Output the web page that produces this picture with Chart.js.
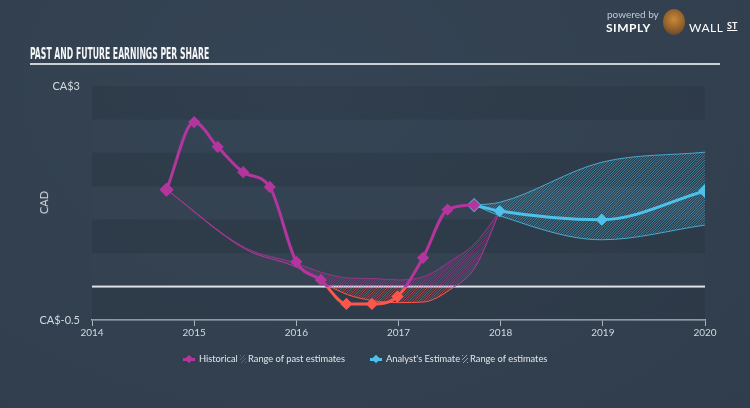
<!DOCTYPE html>
<html>
<head>
<meta charset="utf-8">
<script src="https://cdn.jsdelivr.net/npm/chart.js@4.4.1/dist/chart.umd.min.js"></script>
<style>
  body { margin: 0; width: 750px; height: 408px; overflow: hidden;
         background: radial-gradient(ellipse at 40% 20%, #354454 0%, #303d4c 100%);
         font-family: Lato, "Open Sans", sans-serif; }
  #wrap { position: absolute; left: 0; top: 0; width: 750px; height: 408px; }
  .title { position: absolute; left: 30px; top: 45px; color: #f4f6f8; white-space: nowrap;
           font-family: "DejaVu Sans Condensed", "Liberation Sans Narrow", sans-serif;
           font-weight: bold; font-size: 13px;
           transform: scale(0.66, 1.15); transform-origin: left top; }
  .rule { position: absolute; left: 30px; top: 63px; width: 690px; height: 2px; background: #c9d0d8; }
  .cad { position: absolute; left: 32px; top: 196px; color: #cfd5db; font-size: 11px;
         transform: rotate(-90deg); }
  .logo1 { position: absolute; left: 607px; top: 8px; color: #c4cad1; font-size: 10px; }
  .logo2 { position: absolute; left: 606px; top: 20px; color: #ffffff; font-size: 12px; font-weight: bold; letter-spacing: 0.5px; }
  .logo3 { position: absolute; left: 689px; top: 20px; color: #ffffff; font-size: 12px; letter-spacing: 0.5px; }
  .logo4 { position: absolute; left: 727px; top: 20px; color: #ffffff; font-size: 9px; font-weight: bold; text-decoration: underline; }
  .bull { position: absolute; left: 663px; top: 9px; width: 22px; height: 26px; border-radius: 50%;
          background: radial-gradient(circle at 50% 40%, #c98a3a 0%, #8a5a28 60%, #3a3f46 100%); }
  .legend { position: absolute; top: 353px; left: 0; width: 750px; font-size: 9.3px; color: #e3e7eb; }
  .item { position: absolute; top: 0; white-space: nowrap; }
  .mk { position: absolute; top: 3px; width: 6px; height: 6px; transform: rotate(45deg); }
  .bar { position: absolute; top: 5px; width: 12px; height: 3px; }
  .hatch { position: absolute; top: 2px; width: 6px; height: 8px; }
</style>
</head>
<body>
<div id="wrap"><canvas id="chart" width="750" height="408"></canvas></div>
<div class="title">PAST AND FUTURE EARNINGS PER SHARE</div>
<div class="rule"></div>
<div class="cad">CAD</div>
<div class="logo1">powered by</div>
<div class="logo2">SIMPLY</div>
<div class="bull"></div>
<div class="logo3">WALL</div>
<div class="logo4">ST</div>
<div class="legend">
  <div class="bar" style="left:183px;background:#b4359d"></div>
  <div class="mk" style="left:186px;background:#b4359d"></div>
  <div class="item" style="left:199px">Historical</div>
  <div class="hatch" style="left:240px;background:repeating-linear-gradient(135deg,#b4359d 0 1px,transparent 1px 3px)"></div>
  <div class="item" style="left:248px">Range of past estimates</div>
  <div class="bar" style="left:370px;background:#4fc1e9"></div>
  <div class="mk" style="left:373px;background:#4fc1e9"></div>
  <div class="item" style="left:386px">Analyst's Estimate</div>
  <div class="hatch" style="left:462px;background:repeating-linear-gradient(135deg,#4fc1e9 0 1px,transparent 1px 3px)"></div>
  <div class="item" style="left:470px">Range of estimates</div>
</div>
<script>
// Historical EPS (CAD)
const histYears = [2014.73, 2015.0, 2015.23, 2015.48, 2015.74, 2016.0, 2016.24, 2016.49, 2016.74, 2016.99, 2017.24, 2017.48, 2017.74];
const histEps = [1.45, 2.46, 2.09, 1.71, 1.49, 0.37, 0.10, -0.26, -0.26, -0.15, 0.43, 1.15, 1.22];

// Range of past estimates
const pastYears = [2014.73, 2015.5, 2016.0, 2016.25, 2016.5, 2016.75, 2017.0, 2017.25, 2017.5, 2017.75, 2017.99];
const pastHigh = [1.45, 0.58, 0.35, 0.21, 0.13, 0.12, 0.10, 0.15, 0.37, 0.65, 1.12];
const pastLow = [1.45, 0.56, 0.29, 0.07, -0.12, -0.21, -0.24, -0.23, -0.05, 0.29, 1.12];

// Analyst estimates
const fcYears = [2017.74, 2017.99, 2018.99, 2020.0];
const fcEps = [1.22, 1.13, 1.00, 1.43];
const fcLow = [1.22, 1.06, 0.70, 0.92];
const fcHigh = [1.22, 1.26, 1.86, 2.01];

const xTicks = [2014, 2015, 2016, 2017, 2018, 2019, 2020];
const yMin = -0.5, yMax = 3;

const MAGENTA = '#b4359d';
const RED = '#ff564c';
const CYAN = '#4fc1e9';

function pts(xs, ys) { return xs.map((x, i) => ({ x: x, y: ys[i] })); }

function zeroPx(chart) {
  const ys = chart.scales.y;
  if (!ys || !chart.chartArea) return NaN;
  return ys.getPixelForValue(0);
}

// hatch pattern, colour changes at the zero line
const patCache = {};
function hatch(chart, key, topCol, botCol) {
  const zz = zeroPx(chart);
  if (!isFinite(zz)) return topCol;
  const z = Math.round(zz);
  const id = key + z;
  if (patCache[id]) return patCache[id];
  const w = chart.width, h = chart.height;
  const c = document.createElement('canvas');
  c.width = w; c.height = h;
  const g = c.getContext('2d');
  g.lineWidth = 1;
  [[0, z, topCol], [z, h, botCol]].forEach(([a, b, col]) => {
    g.save();
    g.beginPath(); g.rect(0, a, w, b - a); g.clip();
    g.strokeStyle = col;
    g.beginPath();
    for (let k = -h; k < w; k += 2.5) { g.moveTo(k, h); g.lineTo(k + h, 0); }
    g.stroke();
    g.restore();
  });
  patCache[id] = chart.ctx.createPattern(c, 'no-repeat');
  return patCache[id];
}

function splitColor(ctx) {
  const chart = ctx.chart;
  const z = zeroPx(chart);
  if (!isFinite(z)) return MAGENTA;
  const f = Math.min(1, Math.max(0, z / chart.height));
  const g = chart.ctx.createLinearGradient(0, 0, 0, chart.height);
  g.addColorStop(0, MAGENTA); g.addColorStop(f, MAGENTA);
  g.addColorStop(f, RED); g.addColorStop(1, RED);
  return g;
}

// alternating horizontal bands behind the plot
const bands = {
  id: 'bands',
  beforeDatasetsDraw(chart) {
    const { ctx, chartArea: a, scales: { y } } = chart;
    ctx.save();
    for (let i = 0; i < 7; i++) {
      const t = y.getPixelForValue(yMax - i * 0.5), b = y.getPixelForValue(yMax - (i + 1) * 0.5);
      ctx.fillStyle = i % 2 === 0 ? 'rgba(30,40,52,0.2)' : 'rgba(70,85,100,0.06)';
      ctx.fillRect(a.left, t, a.right - a.left, b - t);
    }
    // zero line
    const z = y.getPixelForValue(0);
    ctx.fillStyle = '#dfe4ea';
    ctx.fillRect(a.left, z - 1, a.right - a.left, 2);
    ctx.restore();
  }
};

new Chart(document.getElementById('chart'), {
  type: 'line',
  data: {
    datasets: [
      {
        data: pts(histYears, histEps), borderColor: splitColor, borderWidth: 3,
        cubicInterpolationMode: 'monotone', fill: false,
        pointStyle: 'rectRot',
        pointRadius: c => (c.dataIndex === 0 ? 5 : 4),
        pointBackgroundColor: c => (c.raw && c.raw.y < 0 ? RED : MAGENTA),
        pointBorderColor: c => (c.raw && c.raw.y < 0 ? RED : MAGENTA),
        order: 0
      },
      {
        data: pts(fcYears, fcEps), borderColor: CYAN, borderWidth: 3,
        cubicInterpolationMode: 'monotone', fill: false,
        pointStyle: 'rectRot',
        pointRadius: c => (c.dataIndex === 0 || c.dataIndex === fcYears.length - 1 ? 5 : 4),
        pointBackgroundColor: CYAN, pointBorderColor: CYAN,
        order: 0
      },
      {
        data: pts(pastYears, pastHigh), borderColor: 'rgba(180,53,157,0.7)', borderWidth: 1,
        cubicInterpolationMode: 'monotone', pointRadius: 0,
        backgroundColor: c => hatch(c.chart, 'past', 'rgba(180,53,157,0.55)', 'rgba(255,86,76,0.55)'),
        fill: '+1', order: 1
      },
      {
        data: pts(pastYears, pastLow), borderColor: splitColor, borderWidth: 1,
        cubicInterpolationMode: 'monotone', pointRadius: 0, fill: false, order: 1
      },
      {
        data: pts(fcYears, fcHigh), borderColor: 'rgba(79,193,233,0.8)', borderWidth: 1,
        cubicInterpolationMode: 'monotone', pointRadius: 0,
        backgroundColor: c => hatch(c.chart, 'fc', 'rgba(79,193,233,0.5)', 'rgba(79,193,233,0.5)'),
        fill: '+1', order: 1
      },
      {
        data: pts(fcYears, fcLow), borderColor: 'rgba(79,193,233,0.8)', borderWidth: 1,
        cubicInterpolationMode: 'monotone', pointRadius: 0, fill: false, order: 1
      }
    ]
  },
  options: {
    responsive: false,
    animation: false,
    layout: { padding: { left: 0, top: 86, right: 45, bottom: 58 } },
    plugins: { legend: { display: false }, tooltip: { enabled: false } },
    scales: {
      x: {
        type: 'linear', min: 2014, max: 2020,
        afterFit: s => { s.height = 30; },
        afterBuildTicks: s => { s.ticks = xTicks.map(v => ({ value: v })); },
        ticks: { color: '#d3d9df', font: { family: 'Lato', size: 10 }, padding: 1, callback: v => String(v) },
        grid: { drawOnChartArea: false, drawTicks: true, tickLength: 6, color: '#aab4bf' },
        border: { display: true, color: '#aab4bf', width: 1.5 }
      },
      y: {
        min: yMin, max: yMax,
        afterFit: s => { s.width = 92; },
        afterBuildTicks: s => { s.ticks = [yMin, yMax].map(v => ({ value: v })); },
        ticks: {
          color: '#d3d9df', font: { family: 'Lato', size: 11 }, padding: 12,
          callback: v => 'CA$' + v
        },
        grid: { display: false, drawTicks: false },
        border: { display: false }
      }
    }
  },
  plugins: [bands]
});
</script>
</body>
</html>
